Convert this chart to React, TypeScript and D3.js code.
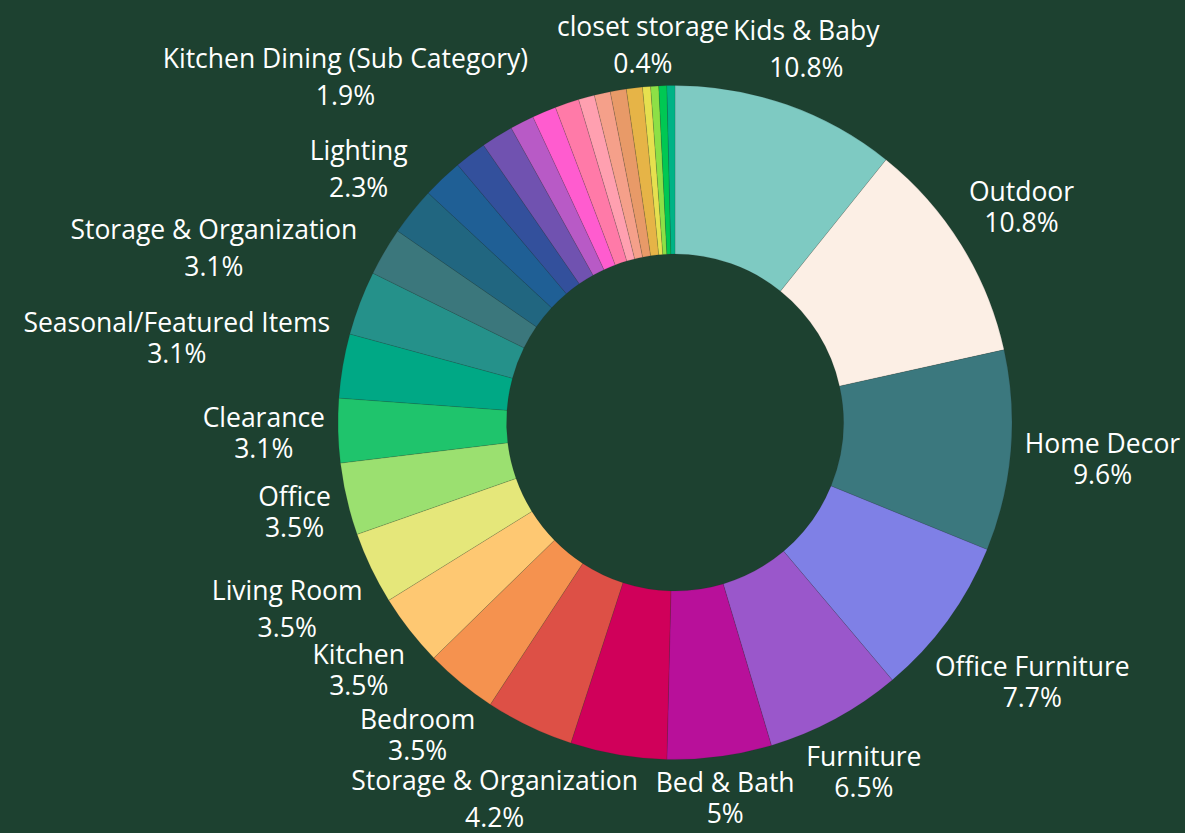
import React, { useEffect, useRef } from 'react';
import * as d3 from 'd3';

// slices in drawing order (clockwise from 12 o'clock); "" = slice without a label
const categories = [
  'Kids & Baby', 'Outdoor', 'Home Decor', 'Office Furniture', 'Furniture', 'Bed & Bath',
  '', 'Storage & Organization', 'Bedroom', 'Kitchen', 'Living Room', 'Office', 'Clearance',
  'Seasonal/Featured Items', 'Storage & Organization', '', 'Lighting', 'Kitchen Dining (Sub Category)',
  '', '', '', '', '', '', '', '', '', 'closet storage', '', '', '',
];

const counts = [
  28, 28, 25, 20, 17, 13,
  12, 11, 9, 9, 9, 9, 8,
  8, 8, 6, 6, 5,
  4, 4, 3, 3, 3, 2, 2, 2, 2, 1, 1, 1, 1,
];

const colors = [
  '#7ecac2', '#fcefe5', '#3b787e', '#7f80e6', '#9a57cb', '#b8109a',
  '#d0005a', '#dd5046', '#f5924f', '#fec872', '#e5e77a', '#9be070', '#1fc46c',
  '#00a885', '#25918a', '#3b777c', '#216680', '#1f5f95',
  '#33509c', '#7052b0', '#b85ac6', '#ff5ccf', '#ff7aa8', '#ffa0b0', '#f5a08a', '#e89a68', '#e6b447',
  '#e6e04f', '#8de046', '#00c853', '#00b386',
];

const BG = '#1d4130';
const WIDTH = 1185;
const HEIGHT = 833;

// distance from the origin to the nearest point of a box centred at (x, y)
function boxDist(x: number, y: number, w: number, h: number) {
  const nx = Math.max(x - w / 2, Math.min(0, x + w / 2));
  const ny = Math.max(y - h / 2, Math.min(0, y + h / 2));
  return Math.hypot(nx, ny);
}

export default function App() {
  const svgRef = useRef<SVGSVGElement>(null);

  useEffect(() => {
    if (!svgRef.current) return;
    const svg = d3.select(svgRef.current);
    svg.selectAll('*').remove();

    const cx = 675;
    const cy = 422.5;
    const outerR = 337;
    const innerR = outerR * 0.5;

    svg.append('rect').attr('width', WIDTH).attr('height', HEIGHT).attr('fill', BG);

    const g = svg.append('g').attr('transform', `translate(${cx},${cy})`);

    const total = d3.sum(counts);
    const data = counts.map((v, i) => ({ name: categories[i], value: v, color: colors[i] }));

    const pie = d3.pie<any>().sort(null).value(d => d.value);
    const arcs = pie(data);
    const arc = d3.arc<any>().innerRadius(innerR).outerRadius(outerR);

    g.selectAll('path.slice')
      .data(arcs)
      .join('path')
      .attr('class', 'slice')
      .attr('d', arc)
      .attr('fill', d => d.data.color)
      .attr('stroke', 'rgba(40,40,40,0.35)')
      .attr('stroke-width', 0.4);

    // outside labels: slide the text block out along the mid angle
    // until its nearest point clears the ring by `pad`
    const fmt = d3.format('.1~f');
    const fontSize = 26.5;
    const capH = fontSize * 0.73;
    const pad = 13;

    arcs.forEach(a => {
      const name = a.data.name;
      if (!name) return;
      const mid = (a.startAngle + a.endAngle) / 2;
      const sx = Math.sin(mid);
      const sy = -Math.cos(mid);

      const t = g.append('text')
        .attr('text-anchor', 'middle')
        .attr('font-family', '"Open Sans", "Noto Sans", sans-serif')
        .attr('font-size', fontSize)
        .attr('fill', '#ffffff');
      const l1 = t.append('tspan').text(name);
      const l2 = t.append('tspan').text(fmt((a.data.value / total) * 100) + '%');

      const w = Math.max(
        (l1.node() as SVGTSpanElement).getComputedTextLength(),
        (l2.node() as SVGTSpanElement).getComputedTextLength()
      );
      const gap = /[gjpqy(]/.test(name) ? 37 : 31;
      const h = gap + capH;

      let lo = 0;
      let hi = 1000;
      for (let k = 0; k < 40; k++) {
        const m = (lo + hi) / 2;
        if (boxDist(sx * m, sy * m, w, h) < outerR + pad) lo = m;
        else hi = m;
      }
      const x = sx * hi;
      const y = sy * hi;
      const base1 = y - h / 2 + capH;

      l1.attr('x', x).attr('y', base1);
      l2.attr('x', x).attr('y', base1 + gap);
    });
  }, []);

  return (
    <div style={{ position: 'absolute', left: 0, top: 0 }}>
      <svg ref={svgRef} width={WIDTH} height={HEIGHT} style={{ display: 'block' }} />
    </div>
  );
}
